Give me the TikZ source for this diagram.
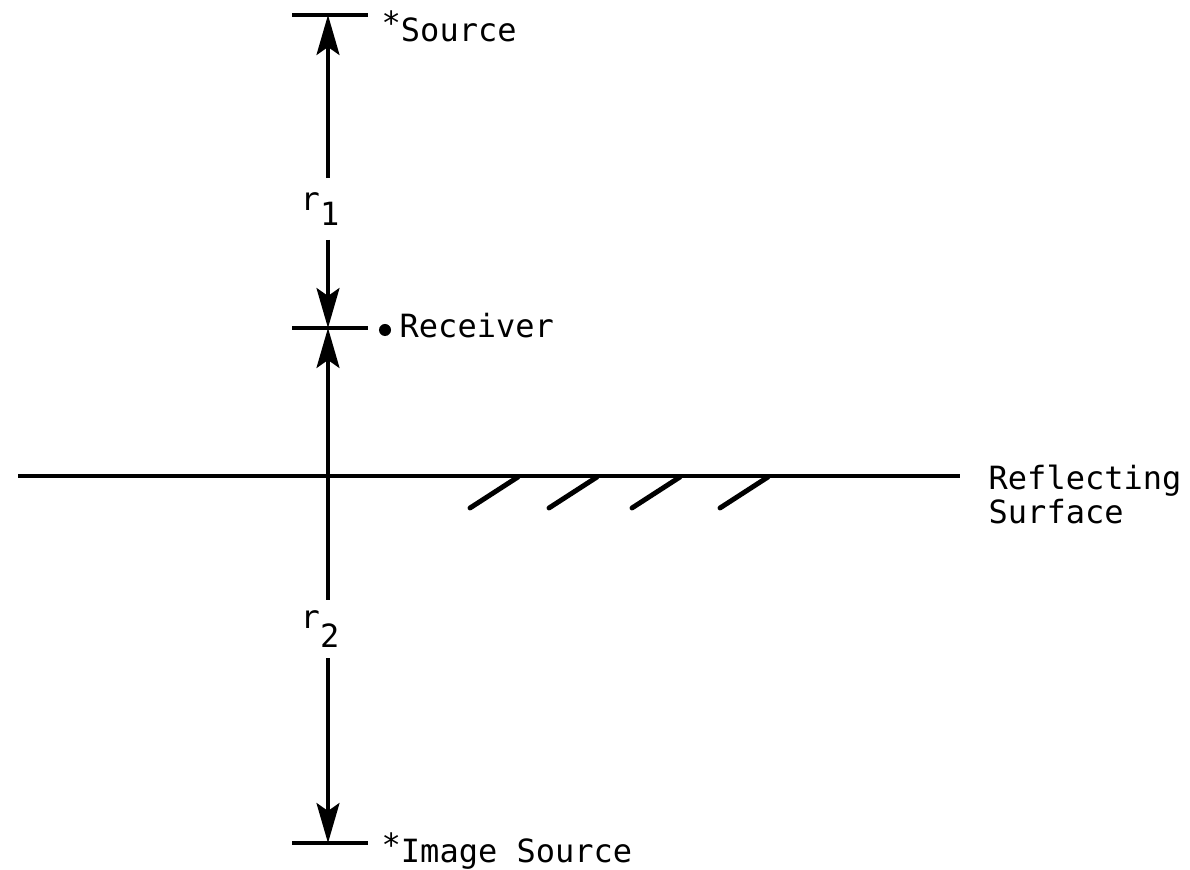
\documentclass[tikz,border=0pt]{standalone}
\usepackage{fontspec}
\setmonofont{DejaVu Sans Mono}
\usetikzlibrary{arrows.meta}

\begin{document}
\begin{tikzpicture}[
    x=0.01cm, y=-0.01cm,
    every node/.style={font=\ttfamily\fontsize{9.1}{11}\selectfont},
    >={Stealth[length=0.4cm, width=0.23cm, inset=0.08cm]},
    dimline/.style={->, line width=0.9pt},
    endtick/.style={line width=0.9pt},
    hatch/.style={line width=1.4pt, line cap=round},
    rlabel/.style={inner xsep=2pt, inner ysep=3.8pt},
]
\useasboundingbox (0,0) rectangle (1190,870);

% === points on the axis ===
\coordinate (src) at (328,15);
\coordinate (rcv) at (328,328);
\coordinate (img) at (328,843);

% === end ticks ===
\draw[endtick] (292,15) -- (368,15);
\draw[endtick] (292,328) -- (368,328);
\draw[endtick] (292,843) -- (368,843);

% === labels at the ticks ===
\node[anchor=base west, inner sep=0] (srclbl) at (381,42) {\raisebox{0.4ex}{*}Source};
\node[circle, fill, inner sep=0, minimum size=0.12cm] (rcvdot) at (385,330) {};
\node[anchor=base west, inner sep=0] (rcvlbl) at (399,338) {Receiver};
\node[anchor=base west, inner sep=0] (imglbl) at (381,862) {\raisebox{0.3ex}{*}Image Source};

% === distance labels ===
\node[rlabel] (r1) at (320,209) {r\raisebox{-0.9ex}{1}};
\node[rlabel, inner ysep=3pt] (r2) at (320,629) {r\raisebox{-1.05ex}{2}};

% === dimension arrows ===
\draw[dimline] (r1.north -| src) -- (src);
\draw[dimline] (r1.south -| rcv) -- (rcv);
\draw[dimline] (r2.north -| rcv) -- (rcv);
\draw[dimline] (r2.south -| img) -- (img);

% === reflecting surface ===
\draw[endtick] (18,476) -- (960,476);
\foreach \hx in {518,597,680,768} {
    \draw[hatch] (\hx,477) -- ++(-48,31);
}
\node[anchor=base west, inner sep=0] (refl) at (988,490) {Reflecting};
\node[anchor=base west, inner sep=0] (surf) at (988,524) {Surface};

\end{tikzpicture}
\end{document}
